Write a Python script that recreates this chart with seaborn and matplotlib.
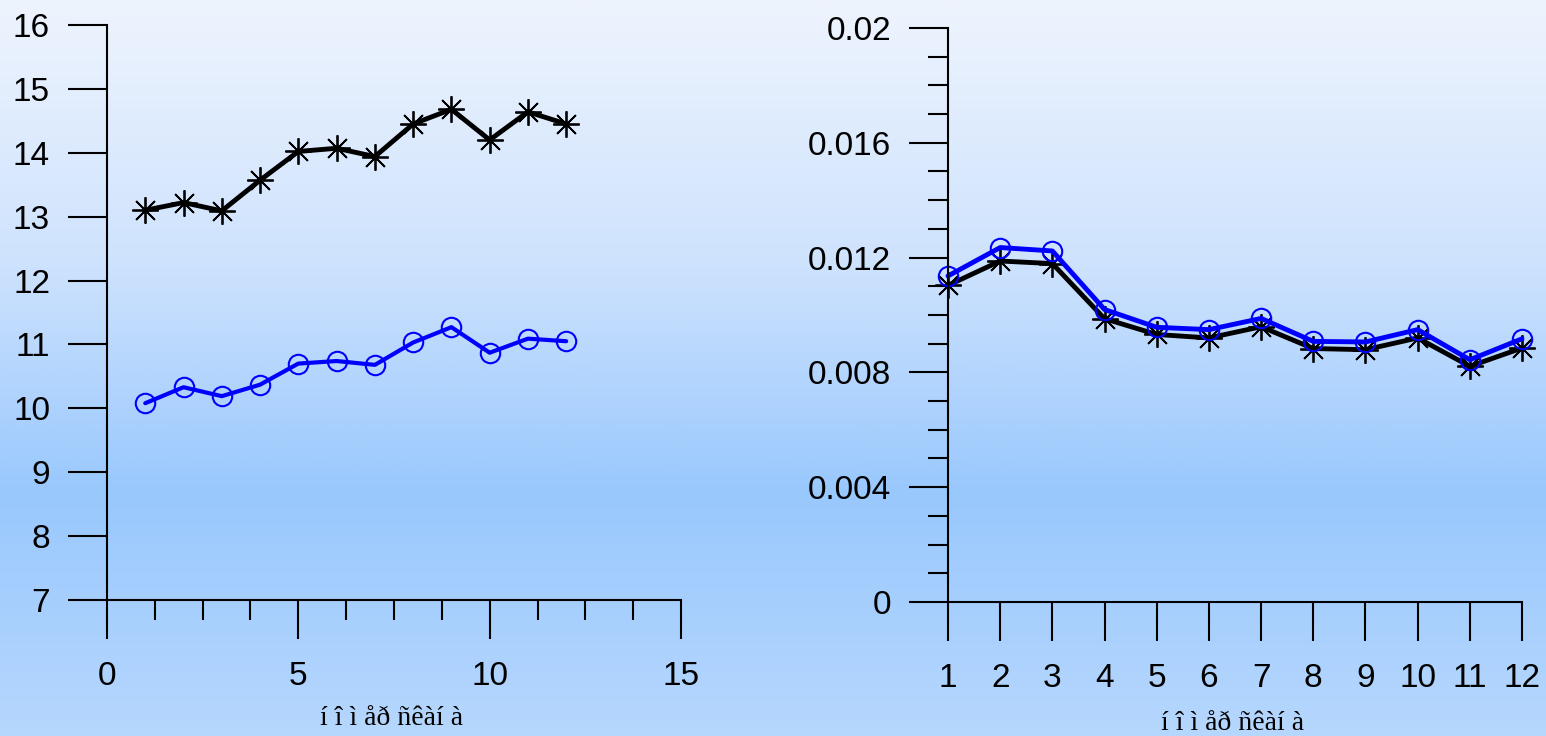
import numpy as np
import seaborn as sns
import matplotlib.pyplot as plt
from matplotlib.colors import LinearSegmentedColormap
from matplotlib.ticker import MultipleLocator, FixedLocator

# scan number (same for both panels)
scan = [1, 2, 3, 4, 5, 6, 7, 8, 9, 10, 11, 12]

# left panel
left_black = [13.10, 13.22, 13.09, 13.57, 14.02, 14.07, 13.94, 14.45, 14.68, 14.20, 14.64, 14.45]
left_blue = [10.08, 10.33, 10.19, 10.37, 10.70, 10.74, 10.68, 11.03, 11.27, 10.87, 11.09, 11.05]

# right panel
right_black = [0.01103, 0.01188, 0.01179, 0.00987, 0.00932, 0.00920, 0.00959, 0.00883, 0.00879, 0.00920, 0.00821, 0.00885]
right_blue = [0.01136, 0.01235, 0.01223, 0.01019, 0.00957, 0.00949, 0.00988, 0.00908, 0.00906, 0.00949, 0.00844, 0.00917]

xlabel_text = "í î ì åð ñêàí à"

sns.set_style("ticks")
plt.rcParams['font.family'] = ['Liberation Sans', 'DejaVu Sans']

fig = plt.figure(figsize=(15.46, 7.36), dpi=100)

# gradient background
bg = fig.add_axes([0, 0, 1, 1], zorder=-10)
cmap = LinearSegmentedColormap.from_list(
    "bg", [(0.0, "#eef4fe"), (0.35, "#cfe3fd"), (0.67, "#99c8fd"), (1.0, "#b6d7fe")])
grad = np.linspace(0, 1, 256).reshape(-1, 1)
bg.imshow(grad, aspect="auto", cmap=cmap, extent=[0, 1, 0, 1], origin="upper")
bg.set_axis_off()

ax1 = fig.add_axes([0.0692, 0.1848, 0.3713, 0.7813])
ax2 = fig.add_axes([0.6132, 0.1821, 0.3713, 0.7799])

star = (8, 2, 0)


def style_axes(ax):
    ax.set_facecolor("none")
    sns.despine(ax=ax)
    for s in ["left", "bottom"]:
        ax.spines[s].set_linewidth(1.5)
        ax.spines[s].set_color("black")
    ax.tick_params(which="major", direction="out", length=28, width=1.5,
                   labelsize=24, colors="black")
    ax.tick_params(which="minor", direction="out", length=14.5, width=1.5, colors="black")
    ax.tick_params(axis="y", which="major", pad=13)
    ax.tick_params(axis="x", which="major", pad=16)


# left panel
sns.lineplot(x=scan, y=left_black, ax=ax1, color="black", linewidth=3.5,
             marker=star, markersize=19, markeredgecolor="black", markeredgewidth=1.3)
sns.lineplot(x=scan, y=left_blue, ax=ax1, color="#0000ff", linewidth=3,
             marker="o", markersize=14, markerfacecolor="none",
             markeredgecolor="#0000ff", markeredgewidth=1.5)
ax1.set_xlim(0, 15)
ax1.set_ylim(7, 16)
ax1.xaxis.set_major_locator(MultipleLocator(5))
ax1.xaxis.set_minor_locator(MultipleLocator(1.25))
ax1.yaxis.set_major_locator(MultipleLocator(1))
style_axes(ax1)

# right panel
sns.lineplot(x=scan, y=right_black, ax=ax2, color="black", linewidth=3.5,
             marker=star, markersize=19, markeredgecolor="black", markeredgewidth=1.3,
             clip_on=False)
sns.lineplot(x=scan, y=right_blue, ax=ax2, color="#0000ff", linewidth=3.5,
             marker="o", markersize=14, markerfacecolor="none",
             markeredgecolor="#0000ff", markeredgewidth=1.5, clip_on=False)
ax2.set_xlim(1, 12)
ax2.set_ylim(0, 0.02)
ax2.xaxis.set_major_locator(FixedLocator(scan))
ax2.yaxis.set_minor_locator(MultipleLocator(0.001))
ax2.set_yticks([0, 0.004, 0.008, 0.012, 0.016, 0.02])
ax2.set_yticklabels(["0", "0.004", "0.008", "0.012", "0.016", "0.02"])
style_axes(ax2)

for ax, ytop in [(ax1, -0.185), (ax2, -0.19)]:
    ax.set_xlabel(xlabel_text, fontsize=20, color="black",
                  family=["Liberation Serif", "DejaVu Serif"])
    ax.xaxis.set_label_coords(0.495, ytop)
    ax.set_ylabel("")

fig.savefig("out.png", dpi=100)
